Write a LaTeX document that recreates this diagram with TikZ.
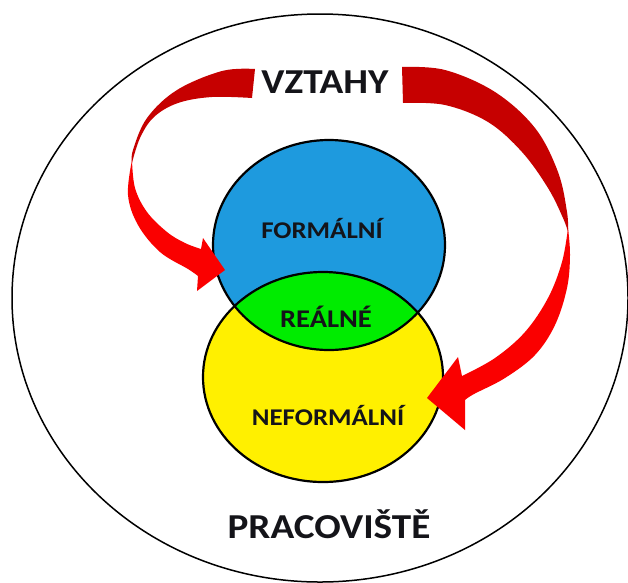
\documentclass[tikz,border=0pt]{standalone}
\usepackage{fontspec}
\setmainfont[FakeStretch=1.12]{Carlito}
\definecolor{bluec}{RGB}{30,154,222}
\definecolor{yellowc}{RGB}{255,240,0}
\definecolor{greenc}{RGB}{0,236,0}
\definecolor{darkredc}{RGB}{198,0,0}
\definecolor{brightredc}{RGB}{250,0,0}
\definecolor{textc}{RGB}{20,20,25}
\begin{document}
\begin{tikzpicture}[x=1pt,y=-1pt,
  lbl/.style={font=\bfseries\fontsize{24}{24}\selectfont, text=textc, inner sep=0, anchor=base},
  biglbl/.style={font=\bfseries\fontsize{35}{35}\selectfont, text=textc, inner sep=0, anchor=base},
  vennline/.style={line width=2.2pt, draw=black},
  ribbondark/.style={fill=darkredc},
  ribbonbright/.style={fill=brightredc}]
\useasboundingbox (0,0) rectangle (628,582);
\fill[white] (0,0) rectangle (628,582);
% workplace ellipse
\draw[line width=1.5pt] (320,298) ellipse [x radius=308, y radius=284];
% Venn
\fill[bluec] (329,245) ellipse [x radius=116, y radius=105];
\fill[yellowc] (323,377) ellipse [x radius=120, y radius=105];
\begin{scope}
  \clip (329,245) ellipse [x radius=116, y radius=105];
  \fill[greenc] (323,377) ellipse [x radius=120, y radius=105];
\end{scope}
\draw[vennline] (329,245) ellipse [x radius=116, y radius=105];
\draw[vennline] (323,377) ellipse [x radius=120, y radius=105];
% left ribbon arrow
\path[ribbondark] plot[smooth,tension=0.6] coordinates {(255,69) (222,71) (177,90) (147,118) (133,150) (132,163)}
  -- plot[smooth,tension=0.6] coordinates {(132,163) (140,138) (154,117) (178,103) (212,97) (252,98)} -- cycle;
\path[ribbonbright] plot[smooth,tension=0.6] coordinates {(132,160) (128,195) (138,225) (160,252) (188,269) (198,276)}
  -- (197,291) -- (225,270) -- (203,238) -- (201,249)
  -- plot[smooth,tension=0.6] coordinates {(201,249) (185,243) (167,232) (147,212) (135,188) (132,160)} -- cycle;
% right ribbon arrow
\path[ribbondark] plot[smooth,tension=0.6] coordinates {(402,67) (445,70) (495,92) (535,128) (558,172) (567,212) (568,232)}
  -- plot[smooth,tension=0.6] coordinates {(568,232) (563,218) (548,188) (522,152) (488,122) (445,105) (403,103)} -- cycle;
\path[ribbonbright] plot[smooth,tension=0.6] coordinates {(568,228) (570,255) (567,288) (555,325) (535,355) (505,378) (474,394) (465,400)}
  -- (465,430) -- (427,398) -- (458,357) -- (462,376)
  -- plot[smooth,tension=0.6] coordinates {(462,376) (495,358) (525,332) (548,298) (562,262) (568,228)} -- cycle;
% labels
\node[biglbl] (vztahy) at (325,93) {VZTAHY};
\node[lbl] (formalni) at (322,238) {FORMÁLNÍ};
\node[lbl, font=\bfseries\fontsize{25.5}{25.5}\selectfont] (realne) at (326,327) {REÁLNÉ};
\node[lbl] (neformalni) at (328,425) {NEFORMÁLNÍ};
\node[biglbl] (pracoviste) at (329,538) {PRACOVIŠTĚ};
\end{tikzpicture}
\end{document}
